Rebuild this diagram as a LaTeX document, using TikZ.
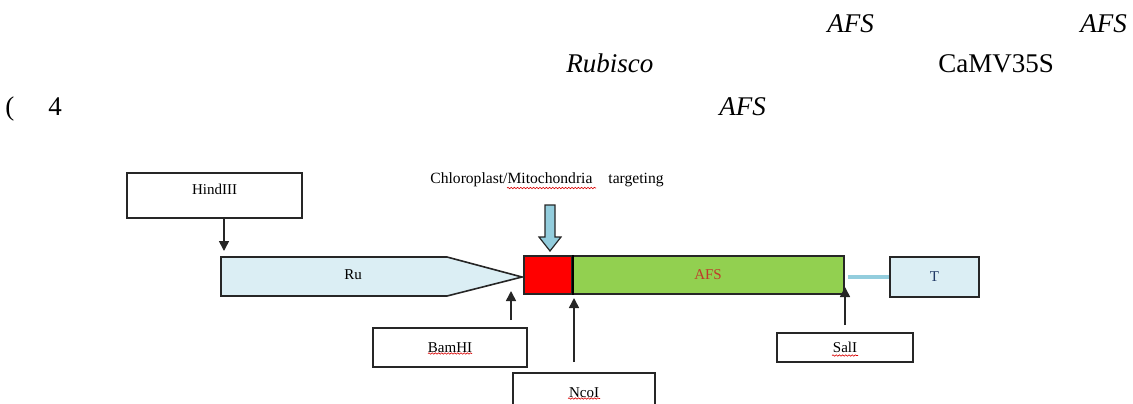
\documentclass[tikz,border=0pt]{standalone}
\usepackage{fontspec}
\setmainfont{Liberation Serif}
\usetikzlibrary{positioning,calc,arrows.meta,decorations.pathmorphing}

\definecolor{rubisco}{HTML}{DBEEF4}
\definecolor{sigred}{HTML}{FF0000}
\definecolor{afsgreen}{HTML}{92D050}
\definecolor{tgtblue}{HTML}{93CDDD}
\definecolor{boxline}{HTML}{262626}
\definecolor{afstext}{HTML}{C0392B}
\definecolor{termtext}{HTML}{1F3864}

\tikzset{
  site/.style={draw=boxline,line width=0.8pt,rectangle,inner sep=0pt,font=\fontsize{7.5}{9}\selectfont},
  cut/.style={-{Triangle[width=5pt,length=5pt]},line width=0.8pt,draw=boxline},
  spell/.style={draw=red!85!black,line width=0.3pt,decorate,decoration={snake,amplitude=0.35pt,segment length=1.6pt}},
  toptext/.style={font=\fontsize{13.5}{16}\selectfont,anchor=base west,inner sep=0pt}
}

\begin{document}
\begin{tikzpicture}[x=0.5pt,y=-0.5pt]
    \useasboundingbox (0,0) rectangle (1133,403);

    % Caption text
    \node[toptext] (afsa) at (827,32) {\textit{AFS}};
    \node[toptext] (afsb) at (1080,32) {\textit{AFS}};
    \node[toptext] (rbc) at (566,72) {\textit{Rubisco}};
    \node[toptext] (camv) at (938,72) {CaMV35S};
    \node[toptext] (paren) at (5,115) {(};
    \node[toptext] (four) at (48,115) {4};
    \node[toptext] (afsc) at (719,115) {\textit{AFS}};

    % Promoter
    \draw[fill=rubisco,draw=boxline,line width=0.8pt] (221,257) -- (447,257) -- (522,277) -- (447,296) -- (221,296) -- cycle;
    \node[font=\fontsize{7.5}{9}\selectfont] (ru) at (353,275) {Ru};

    % Transit peptide + AFS + terminator
    \node[site,fill=sigred,minimum width=24pt,minimum height=19pt] (sig) at (548,275) {};
    \node[site,fill=afsgreen,minimum width=136pt,minimum height=19pt,text=afstext] (afs) at (708,275) {AFS};
    \draw[line width=1.3pt] (sig.north east) -- (sig.south east);
    \node[site,fill=rubisco,minimum width=44.5pt,minimum height=20pt,text=termtext] (term) at (934.5,277) {T};
    \draw[tgtblue,line width=2pt,shorten <=1.5pt] (afs.east |- term.west) -- (term.west);

    % Targeting signal
    \node[font=\fontsize{7.8}{9}\selectfont,anchor=west,inner sep=0pt] (target) at (430,180) {Chloroplast/Mitochondria\hspace{8pt}targeting};
    \draw[spell] ($(target.west)+(77,8)$) -- ($(target.west)+(166,8)$);
    \draw[fill=tgtblue,draw=boxline,line width=0.6pt] (545,205) -- (555,205) -- (555,237) -- (561,237) -- (550,251) -- (539,237) -- (545,237) -- cycle;

    % Restriction sites
    \node[site,minimum width=87.5pt,minimum height=22.5pt,text depth=6pt] (hind) at (214.5,195.5) {HindIII};
    \node[site,minimum width=77pt,minimum height=19.5pt] (bam) at (450,347.5) {BamHI};
    \node[site,minimum width=71pt,minimum height=19.5pt] (nco) at (584,392.5) {NcoI};
    \node[site,minimum width=68pt,minimum height=14.5pt] (sal) at (845,347.5) {SalI};
    \draw[spell] ($(bam.center)+(-22,6)$) -- ($(bam.center)+(22,6)$);
    \draw[spell] ($(nco.center)+(-16,6)$) -- ($(nco.center)+(16,6)$);
    \draw[spell] ($(sal.center)+(-13,8)$) -- ($(sal.center)+(13,8)$);

    \coordinate (hindcut) at (224,251);
    \coordinate (bamcut) at (511,291);
    \coordinate (ncocut) at (574,298);
    \coordinate (salcut) at (845,287);
    \draw[cut] (hind.south -| hindcut) -- (hindcut);
    \draw[cut,shorten <=3.5pt] (bam.north -| bamcut) -- (bamcut);
    \draw[cut,shorten <=5pt] (nco.north -| ncocut) -- (ncocut);
    \draw[cut,shorten <=3.5pt] (sal.north -| salcut) -- (salcut);
\end{tikzpicture}
\end{document}
